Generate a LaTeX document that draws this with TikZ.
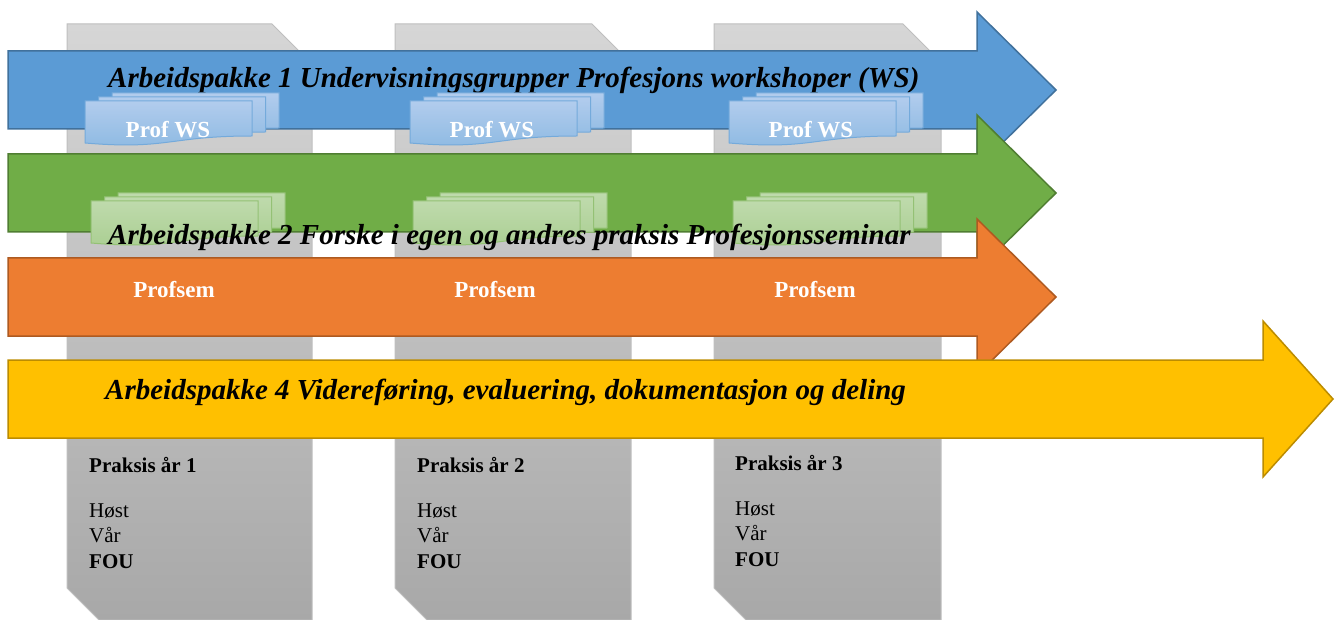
\documentclass[tikz,border=0pt]{standalone}
\usepackage{fontspec}
\setmainfont{Liberation Serif}
\usetikzlibrary{positioning}
\definecolor{pkblue}{HTML}{5B9BD5}
\definecolor{pkblueline}{HTML}{41719C}
\definecolor{pkgreen}{HTML}{70AD47}
\definecolor{pkgreenline}{HTML}{507E32}
\definecolor{pkorange}{HTML}{ED7D31}
\definecolor{pkorangeline}{HTML}{AE5A21}
\definecolor{pkyellow}{HTML}{FFC000}
\definecolor{pkyellowline}{HTML}{BC8C00}
\definecolor{coltop}{HTML}{D6D6D6}
\definecolor{colbottom}{HTML}{A8A8A8}
\definecolor{colline}{HTML}{BFBFBF}

\begin{document}
\begin{tikzpicture}[x=1pt, y=-1pt,
    column/.style={top color=coltop, bottom color=colbottom, draw=colline, line width=1pt},
    pkarrow/.style={line width=1.5pt, line join=miter},
    bluedoc/.style={top color=blue!8!pkblue!45, bottom color=pkblue!70, draw=pkblue!85, line width=1pt},
    greendoc/.style={top color=pkgreen!45, bottom color=pkgreen!60, draw=pkgreen!75, line width=1pt},
    pktitle/.style={font=\fontsize{29}{34}\selectfont\bfseries\itshape, inner sep=0pt, anchor=base west},
    whitelabel/.style={font=\fontsize{23}{27}\selectfont\bfseries, text=white, inner sep=0pt, anchor=base},
    praksis/.style={font=\fontsize{21}{25.5}\selectfont, inner sep=0pt, anchor=base west},
    pics/docstack/.style={code={
        \path[#1] (27,-8) -- (194,-8) -- (194,27) .. controls (110.5,27) and (110.5,41) .. (27,34) -- cycle;
        \path[#1] (13.5,-4) -- (180.5,-4) -- (180.5,31) .. controls (97,31) and (97,45) .. (13.5,38) -- cycle;
        \path[#1] (0,0) -- (167,0) -- (167,35) .. controls (83.5,35) and (83.5,49) .. (0,42) -- cycle;
    }}]
    \useasboundingbox (0,0) rectangle (1335,620);

    % year columns
    \path[column] (67,24) -- (272,24) -- (312,64) -- (312,620) -- (99,620) -- (67,588) -- cycle;
    \path[column] (395,24) -- (592,24) -- (631,63) -- (631,620) -- (427,620) -- (395,588) -- cycle;
    \path[column] (714,24) -- (903,24) -- (941,62) -- (941,620) -- (746,620) -- (714,588) -- cycle;

    % Arbeidspakke 1
    \draw[pkarrow, fill=pkblue, draw=pkblueline] (8,51) -- (977,51) -- (977,12) -- (1056,90) -- (977,168) -- (977,129) -- (8,129) -- cycle;
    \node[pktitle] (ap1) at (108,88) {Arbeidspakke 1 Undervisningsgrupper Profesjons workshoper (WS)};
    \pic at (85,101) {docstack=bluedoc};
    \pic at (410,101) {docstack=bluedoc};
    \pic at (729,101) {docstack=bluedoc};
    \node[whitelabel] (ws1) at (168,138) {Prof WS};
    \node[whitelabel] (ws2) at (492,138) {Prof WS};
    \node[whitelabel] (ws3) at (811,138) {Prof WS};

    % Arbeidspakke 2
    \draw[pkarrow, fill=pkgreen, draw=pkgreenline] (8,154) -- (977,154) -- (977,115) -- (1056,193) -- (977,271) -- (977,232) -- (8,232) -- cycle;
    \pic at (91,201) {docstack=greendoc};
    \pic at (413,201) {docstack=greendoc};
    \pic at (733,201) {docstack=greendoc};
    \node[pktitle] (ap2) at (108,245) {Arbeidspakke 2 Forske i egen og andres praksis Profesjonsseminar};

    % Profsem
    \draw[pkarrow, fill=pkorange, draw=pkorangeline] (8,258) -- (977,258) -- (977,219) -- (1056,297) -- (977,375) -- (977,336) -- (8,336) -- cycle;
    \node[whitelabel] (sem1) at (174,297) {Profsem};
    \node[whitelabel] (sem2) at (495,297) {Profsem};
    \node[whitelabel] (sem3) at (815,297) {Profsem};

    % Arbeidspakke 4
    \draw[pkarrow, fill=pkyellow, draw=pkyellowline] (8,360) -- (1263,360) -- (1263,321) -- (1333,399) -- (1263,477) -- (1263,438) -- (8,438) -- cycle;
    \node[pktitle] (ap4) at (105,399) {Arbeidspakke 4 Videreføring, evaluering, dokumentasjon og deling};

    % praksis per year
    \node[praksis] (pr1) at (89,472) {\bfseries Praksis år 1};
    \node[praksis] (h1) at (89,517) {Høst};
    \node[praksis] (v1) at (89,542) {Vår};
    \node[praksis] (f1) at (89,568) {\bfseries FOU};

    \node[praksis] (pr2) at (417,472) {\bfseries Praksis år 2};
    \node[praksis] (h2) at (417,517) {Høst};
    \node[praksis] (v2) at (417,542) {Vår};
    \node[praksis] (f2) at (417,568) {\bfseries FOU};

    \node[praksis] (pr3) at (735,470) {\bfseries Praksis år 3};
    \node[praksis] (h3) at (735,515) {Høst};
    \node[praksis] (v3) at (735,540) {Vår};
    \node[praksis] (f3) at (735,566) {\bfseries FOU};
\end{tikzpicture}
\end{document}
